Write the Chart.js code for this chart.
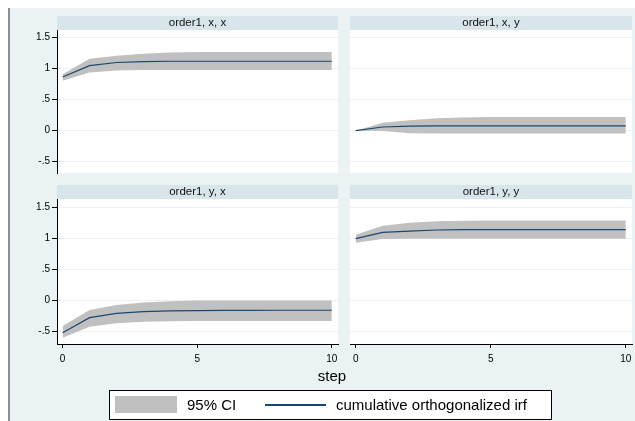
<!DOCTYPE html>
<html>
<head>
<meta charset="utf-8">
<script src="https://cdn.jsdelivr.net/npm/chart.js@4.4.1/dist/chart.umd.min.js"></script>
<style>
    body { margin: 0; width: 635px; height: 421px; overflow: hidden; position: relative; background: #fff; font-family: "Liberation Sans", Arial, sans-serif; color: #000; }
    #frame { position: absolute; left: 8px; top: 8px; width: 625px; height: 413px; background: #eaf2f3; border-left: 2px solid #8e8e8e; }
    canvas { position: absolute; }
    #xtitle { position: absolute; left: 292px; top: 367px; width: 80px; line-height: 18px; text-align: center; font-size: 15px; }
    #legend { position: absolute; left: 109px; top: 390px; width: 443px; height: 30px; box-sizing: border-box; border: 1px solid #000; background: #fff; }
    #legend .sw { position: absolute; left: 5px; top: 5px; width: 62px; height: 17px; background: #c0c0c0; }
    #legend .ln { position: absolute; left: 155px; top: 13px; width: 61px; height: 2px; background: #1a476f; }
    #legend .lab { position: absolute; top: 0; line-height: 28px; font-size: 15px; white-space: nowrap; }
</style>
</head>
<body>
<div id="frame"></div>
<canvas id="p1" width="346" height="183" style="left:0;top:0"></canvas>
<canvas id="p2" width="300" height="183" style="left:344px;top:0"></canvas>
<canvas id="p3" width="346" height="200" style="left:0;top:170px"></canvas>
<canvas id="p4" width="300" height="200" style="left:344px;top:170px"></canvas>
<div id="xtitle"></div>
<div id="legend"></div>
<script>
const steps = [0, 1, 2, 3, 4, 5, 6, 7, 8, 9, 10];
const xTicks = [0, 5, 10];
const yTicks = [-0.5, 0, 0.5, 1, 1.5];
const panelTitles = ['order1, x, x', 'order1, x, y', 'order1, y, x', 'order1, y, y'];
const xLabel = 'step';
const legendLabels = ['95% CI', 'cumulative orthogonalized irf'];

// order1, x, x
const irfXX = [0.865, 1.05, 1.10, 1.115, 1.12, 1.12, 1.12, 1.12, 1.12, 1.12, 1.12];
const loXX  = [0.805, 0.94, 0.97, 0.98, 0.98, 0.98, 0.98, 0.98, 0.98, 0.98, 0.98];
const hiXX  = [0.91, 1.16, 1.21, 1.24, 1.26, 1.27, 1.27, 1.27, 1.27, 1.27, 1.27];
// order1, x, y
const irfXY = [0, 0.06, 0.075, 0.078, 0.078, 0.078, 0.078, 0.078, 0.078, 0.078, 0.078];
const loXY  = [0, -0.005, -0.04, -0.045, -0.045, -0.045, -0.045, -0.045, -0.045, -0.045, -0.045];
const hiXY  = [0, 0.13, 0.17, 0.20, 0.215, 0.22, 0.22, 0.22, 0.22, 0.22, 0.22];
// order1, y, x
const irfYX = [-0.52, -0.275, -0.205, -0.178, -0.165, -0.16, -0.157, -0.156, -0.155, -0.155, -0.155];
const loYX  = [-0.60, -0.42, -0.365, -0.34, -0.333, -0.33, -0.33, -0.33, -0.33, -0.33, -0.33];
const hiYX  = [-0.41, -0.15, -0.07, -0.03, -0.01, 0, 0, 0, 0, 0, 0];
// order1, y, y
const irfYY = [1.0, 1.10, 1.12, 1.14, 1.145, 1.145, 1.145, 1.145, 1.145, 1.145, 1.145];
const loYY  = [0.935, 0.995, 1.0, 1.0, 1.0, 1.0, 1.0, 1.0, 1.0, 1.0, 1.0];
const hiYY  = [1.065, 1.21, 1.255, 1.28, 1.29, 1.295, 1.295, 1.295, 1.295, 1.295, 1.295];

const FONT = '"Liberation Sans", Arial, sans-serif';
const NAVY = '#1a476f';
const CI_GRAY = '#c0c0c0';

// strip behind the panel title and white plot region
const panelBg = {
    id: 'panelBg',
    beforeDraw(chart) {
        const a = chart.chartArea;
        const t = chart.titleBlock;
        const ctx = chart.ctx;
        ctx.save();
        ctx.fillStyle = '#d8e5ea';
        ctx.fillRect(t.left, t.top, t.width, t.height);
        ctx.fillStyle = '#fff';
        ctx.fillRect(a.left, a.top, a.right - a.left, a.bottom - a.top);
        ctx.restore();
    }
};

function fmtY(v) {
    if (v === 0) return '0';
    return String(v).replace(/^(-?)0\./, '$1.');
}

function makePanel(id, title, irf, lo, hi, cfg) {
    const pts = arr => steps.map((s, i) => ({ x: s, y: arr[i] }));
    new Chart(document.getElementById(id), {
        type: 'line',
        data: {
            datasets: [
                { data: pts(irf), borderColor: NAVY, borderWidth: 1.2, pointRadius: 0, fill: false, tension: 0 },
                { data: pts(hi), borderWidth: 0, borderColor: CI_GRAY, backgroundColor: CI_GRAY, pointRadius: 0, fill: '+1', tension: 0 },
                { data: pts(lo), borderWidth: 0, borderColor: CI_GRAY, pointRadius: 0, fill: false, tension: 0 }
            ]
        },
        options: {
            responsive: false,
            animation: false,
            events: [],
            layout: { padding: cfg.padding },
            plugins: {
                legend: { display: false },
                tooltip: { enabled: false },
                title: {
                    display: true,
                    text: title,
                    fullSize: false,
                    color: '#111',
                    font: { family: FONT, size: 11.5, weight: 'normal', lineHeight: '14px' },
                    padding: 0
                }
            },
            scales: {
                x: {
                    type: 'linear',
                    min: -0.21,
                    max: 10.23,
                    display: cfg.showX,
                    afterBuildTicks: s => { s.ticks = xTicks.map(v => ({ value: v })); },
                    afterFit: s => { s.height = cfg.showX ? 20 : 0; },
                    grid: { drawOnChartArea: false, drawTicks: true, tickLength: 4, tickColor: '#000' },
                    border: { display: true, color: '#000', width: 1 },
                    ticks: { color: '#000', padding: 5, maxRotation: 0, font: { family: FONT, size: 10 } }
                },
                y: {
                    min: cfg.yMin,
                    max: cfg.yMax,
                    afterBuildTicks: s => { s.ticks = yTicks.map(v => ({ value: v })); },
                    afterFit: s => { s.width = cfg.showY ? 57 : 0; },
                    grid: { color: '#eaf2f3', lineWidth: 1, drawTicks: cfg.showY, tickLength: 5, tickColor: '#000' },
                    border: { display: cfg.showY, color: '#000', width: 1 },
                    ticks: { display: cfg.showY, color: '#000', padding: 2, font: { family: FONT, size: 10 }, callback: v => fmtY(v) }
                }
            }
        },
        plugins: [panelBg]
    });
}

const topRange = { yMin: -0.682, yMax: 1.624 };
const botRange = { yMin: -0.70, yMax: 1.64 };

makePanel('p1', panelTitles[0], irfXX, loXX, hiXX, Object.assign({ showX: false, showY: true, padding: { left: 0, top: 16, right: 8, bottom: 10 } }, topRange));
makePanel('p2', panelTitles[1], irfXY, loXY, hiXY, Object.assign({ showX: false, showY: false, padding: { left: 6, top: 16, right: 12, bottom: 10 } }, topRange));
makePanel('p3', panelTitles[2], irfYX, loYX, hiYX, Object.assign({ showX: true, showY: true, padding: { left: 0, top: 15, right: 8, bottom: 6 } }, botRange));
makePanel('p4', panelTitles[3], irfYY, loYY, hiYY, Object.assign({ showX: true, showY: false, padding: { left: 6, top: 15, right: 12, bottom: 6 } }, botRange));

document.getElementById('xtitle').textContent = xLabel;
document.getElementById('legend').innerHTML =
    '<span class="sw"></span>' +
    '<span class="lab" style="left:77px">' + legendLabels[0] + '</span>' +
    '<span class="ln"></span>' +
    '<span class="lab" style="left:226px">' + legendLabels[1] + '</span>';
</script>
</body>
</html>
